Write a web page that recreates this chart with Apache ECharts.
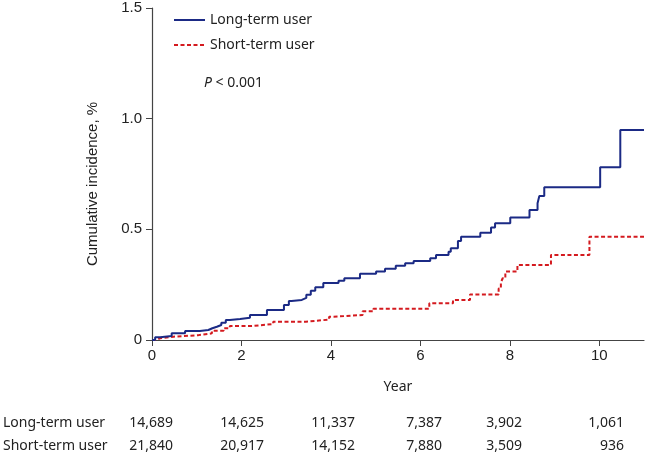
<!DOCTYPE html>
<html>
<head>
<meta charset="utf-8">
<script src="https://cdn.jsdelivr.net/npm/echarts@6/dist/echarts.min.js"></script>
<style>
html,body{margin:0;padding:0;background:#fff;}
#c{width:650px;height:455px;}
</style>
</head>
<body>
<div id="c"></div>
<script>
// ---- Data ----
var seriesNames = ['Long-term user', 'Short-term user'];
var longTerm = [
  [0,0],[0.07,0.012],[0.18,0.018],[0.44,0.030],[0.74,0.041],[1.07,0.045],[1.26,0.053],
  [1.35,0.060],[1.45,0.068],[1.55,0.078],[1.65,0.090],[1.74,0.095],[1.97,0.101],[2.19,0.113],
  [2.57,0.136],[2.95,0.158],[3.06,0.176],[3.12,0.181],[3.35,0.190],[3.45,0.205],[3.55,0.222],
  [3.65,0.238],[3.83,0.257],[4.17,0.268],[4.30,0.279],[4.65,0.299],[5.01,0.309],[5.21,0.322],
  [5.45,0.336],[5.66,0.347],[5.85,0.357],[6.22,0.369],[6.35,0.384],[6.63,0.399],[6.68,0.414],
  [6.84,0.447],[6.91,0.467],[7.34,0.485],[7.58,0.508],[7.67,0.527],[8.01,0.554],[8.44,0.587],
  [8.62,0.618],[8.66,0.651],[8.77,0.690],[10.02,0.780],[10.47,0.949],[11,0.949]
];
var shortTerm = [
  [0,0],[0.10,0.008],[0.18,0.015],[0.48,0.022],[1.04,0.030],[1.34,0.042],[1.60,0.053],
  [1.74,0.063],[2.23,0.072],[2.71,0.083],[3.44,0.092],[3.96,0.105],[4.06,0.113],[4.71,0.130],
  [4.95,0.141],[6.20,0.166],[6.73,0.181],[7.11,0.206],[7.75,0.233],[7.80,0.260],[7.84,0.279],
  [7.90,0.309],[8.17,0.339],[8.92,0.384],[9.78,0.467],[11,0.467]
];
var xTicks = [0, 2, 4, 6, 8, 10];
var atRiskLong = ['14,689', '14,625', '11,337', '7,387', '3,902', '1,061'];
var atRiskShort = ['21,840', '20,917', '14,152', '7,880', '3,509', '936'];
var pText = '< 0.001';

// ---- Layout (positions only) ----
var tableColRight = [173, 264, 355, 442, 522, 624];
var tableRowY = [423, 446];
var tableFont = '"Noto Sans", sans-serif';
var axisFont = '"Liberation Sans", Arial, sans-serif';

var graphics = [];
var rows = [atRiskLong, atRiskShort];
rows.forEach(function (vals, r) {
  graphics.push({
    type: 'text', x: 3, y: tableRowY[r],
    style: { text: seriesNames[r], font: '14px ' + tableFont, fill: '#222', verticalAlign: 'middle' }
  });
  vals.forEach(function (v, i) {
    graphics.push({
      type: 'text', x: tableColRight[i], y: tableRowY[r],
      style: { text: v, font: '14px ' + tableFont, fill: '#222', align: 'right', verticalAlign: 'middle' }
    });
  });
});
graphics.push({
  type: 'text', x: 204, y: 83,
  style: {
    text: '{i|P} ' + pText, verticalAlign: 'middle',
    rich: {
      i: { fontStyle: 'italic', fontSize: 14, fontFamily: tableFont, fill: '#222' }
    },
    font: '14px ' + tableFont, fill: '#222'
  }
});

var chart = echarts.init(document.getElementById('c'), null, { renderer: 'canvas' });
chart.setOption({
  animation: false,
  backgroundColor: '#fff',
  grid: { left: 152, right: 6, top: 8, bottom: 115, containLabel: false },
  legend: {
    orient: 'vertical', left: 168, top: 8,
    itemWidth: 31, itemHeight: 14, itemGap: 11,
    itemStyle: { opacity: 0 },
    textStyle: { fontSize: 14, fontFamily: tableFont, color: '#222', padding: [0, 0, 0, 0] },
    data: seriesNames
  },
  xAxis: {
    type: 'value', min: 0, max: 11, interval: 2,
    name: 'Year', nameLocation: 'middle', nameGap: 40,
    nameTextStyle: { fontSize: 14, fontFamily: tableFont, color: '#222' },
    axisLine: { lineStyle: { color: '#444', width: 1.2 } },
    axisTick: { length: 6, lineStyle: { color: '#444' }, customValues: xTicks },
    axisLabel: { fontSize: 15, fontFamily: axisFont, color: '#222', margin: 8, customValues: xTicks },
    splitLine: { show: false }
  },
  yAxis: {
    type: 'value', min: 0, max: 1.5, interval: 0.5,
    name: 'Cumulative incidence, %', nameLocation: 'middle', nameGap: 52,
    nameTextStyle: { fontSize: 15, fontFamily: axisFont, color: '#222', padding: [0, 20, 0, 0] },
    axisLine: { show: true, lineStyle: { color: '#444', width: 1.2 } },
    axisTick: { show: true, length: 6, lineStyle: { color: '#444' } },
    axisLabel: {
      fontSize: 15, fontFamily: axisFont, color: '#222', margin: 10,
      formatter: function (v) { return v === 0 ? '0' : v.toFixed(1); }
    },
    splitLine: { show: false }
  },
  series: [
    {
      name: seriesNames[0], type: 'line', step: 'end', data: longTerm,
      showSymbol: false, symbol: 'none', color: '#1b2a85',
      lineStyle: { color: '#1b2a85', width: 2 }, z: 3
    },
    {
      name: seriesNames[1], type: 'line', step: 'end', data: shortTerm,
      showSymbol: false, symbol: 'none', color: '#d41a1f',
      lineStyle: { color: '#d41a1f', width: 2, type: [4, 2.5] }, z: 2
    }
  ],
  graphic: graphics
});
</script>
</body>
</html>
